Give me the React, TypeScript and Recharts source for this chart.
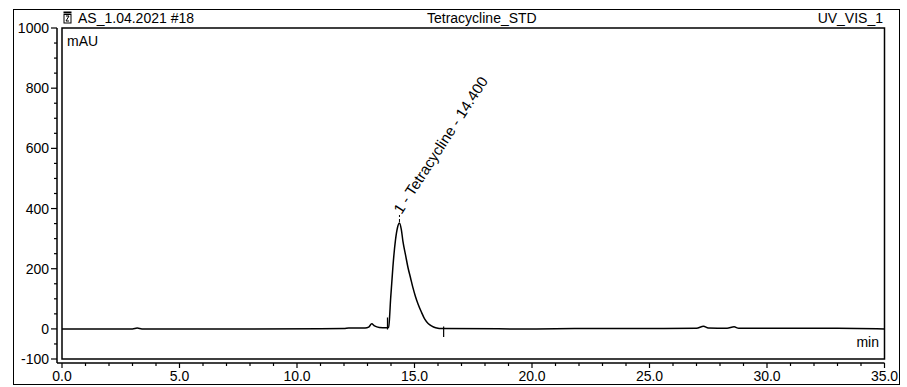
import {
  LineChart,
  Line,
  XAxis,
  YAxis,
  ReferenceArea,
  ReferenceLine,
  ReferenceDot,
} from "recharts";

// Chromatogram readings: retention time (min) and absorbance (mAU)
const TIMES = [
  0, 3.0, 3.2, 3.4, 8.0, 12.0, 12.2, 12.9, 13.05, 13.18, 13.3, 13.5, 13.8,
  13.9, 13.94, 13.98, 14.03, 14.08, 14.19, 14.28, 14.36, 14.44, 14.51, 14.62,
  14.72, 14.83, 14.93, 15.04, 15.15, 15.3, 15.43, 15.58, 15.72, 15.9, 16.2,
  20.0, 22.0, 25.0, 27.0, 27.3, 27.5, 28.3, 28.6, 28.8, 33.0, 35.0,
];
const MAU = [
  0, 0, 3, 0, 0, 1, 3, 3, 6, 17, 10, 5, 4,
  5, 40, 95, 150, 205, 295, 338, 352, 330, 290, 245,
  205, 170, 138, 108, 83, 55, 33, 18, 10, 4, 1,
  0, 1, 1, 2, 9, 3, 2, 7, 2, 2, 0,
];

const X_TICKS = Array.from({ length: 36 }, (_, i) => i);
const Y_TICKS = Array.from({ length: 23 }, (_, i) => -100 + i * 50);
const Y_LABELS = [-100, 0, 200, 400, 600, 800, 1000];

const PEAK_TIME = 14.36;
const PEAK_MAU = 352;
const PEAK_LABEL = "1 - Tetracycline - 14.400";
const START_MARK = 13.85;
const END_MARK = 16.24;

const data = TIMES.map((t, i) => ({ t, v: MAU[i] }));

const FONT = "'Liberation Sans', Arial, sans-serif";

const XTick = (props: any) => {
  const { x, y, payload } = props;
  const major = payload.value % 5 === 0;
  return (
    <g>
      <line x1={x} x2={x} y1={y} y2={y + (major ? 5 : 3)} stroke="#000" strokeWidth={1.2} />
      {major && (
        <text x={x} y={y + 18} textAnchor="middle" fontSize={14} fontFamily={FONT} fill="#000">
          {payload.value.toFixed(1)}
        </text>
      )}
    </g>
  );
};

const YTick = (props: any) => {
  const { x, y, payload } = props;
  const labelled = Y_LABELS.includes(payload.value);
  return (
    <g>
      <line x1={x} x2={x - (labelled ? 6 : 3)} y1={y} y2={y} stroke="#000" strokeWidth={1.2} />
      {labelled && (
        <text x={x - 8} y={y + 5} textAnchor="end" fontSize={14} fontFamily={FONT} fill="#000">
          {payload.value}
        </text>
      )}
    </g>
  );
};

const PeakLabel = (props: any) => {
  const { cx, cy } = props;
  const sx = cx + 2;
  const sy = cy - 8;
  return (
    <g>
      <line x1={cx} x2={cx} y1={cy - 1} y2={cy - 8} stroke="#000" strokeDasharray="3 2" />
      <text
        x={sx}
        y={sy}
        transform={`rotate(-57, ${sx}, ${sy})`}
        fontSize={15}
        fontFamily={FONT}
        fill="#000"
      >
        {PEAK_LABEL}
      </text>
    </g>
  );
};

export default function App() {
  return (
    <div
      style={{
        position: "absolute",
        left: 0,
        top: 0,
        width: 907,
        height: 387,
        background: "#fff",
        fontFamily: FONT,
        color: "#000",
      }}
    >
      {/* outer frame */}
      <div
        style={{
          position: "absolute",
          left: 13,
          top: 9,
          width: 885,
          height: 374,
          border: "1.5px solid #000",
        }}
      />
      {/* header */}
      <svg style={{ position: "absolute", left: 63, top: 11 }} width={10} height={13}>
        <rect x={0.5} y={0.5} width={8} height={2} fill="#000" />
        <rect x={1} y={3.5} width={7} height={8.5} fill="none" stroke="#000" />
        <path d="M3 5 L6 5 L3 10 L6 10" fill="none" stroke="#000" />
      </svg>
      <div style={{ position: "absolute", left: 78, top: 10, fontSize: 14 }}>AS_1.04.2021 #18</div>
      <div style={{ position: "absolute", left: 427, top: 10, fontSize: 14 }}>Tetracycline_STD</div>
      <div style={{ position: "absolute", right: 907 - 883, top: 10, fontSize: 14 }}>UV_VIS_1</div>
      <div style={{ position: "absolute", left: 67, top: 33, fontSize: 14 }}>mAU</div>
      <div style={{ position: "absolute", right: 907 - 879, top: 334, fontSize: 14 }}>min</div>

      <div style={{ position: "absolute", left: 0, top: 0 }}>
        <LineChart
          width={907}
          height={387}
          data={data}
          margin={{ top: 28, right: 22.5, bottom: 0, left: 0 }}
        >
          <XAxis
            dataKey="t"
            type="number"
            domain={[0, 35]}
            ticks={X_TICKS}
            interval={0}
            height={24}
            padding={{ left: 5, right: 0 }}
            tickSize={0}
            tickMargin={0}
            tickLine={false}
            axisLine={{ stroke: "#000", strokeWidth: 1.5 }}
            tick={<XTick />}
            allowDataOverflow
          />
          <YAxis
            type="number"
            domain={[-100, 1000]}
            ticks={Y_TICKS}
            interval={0}
            width={57}
            padding={{ top: 0, bottom: 4 }}
            tickSize={0}
            tickMargin={0}
            tickLine={false}
            axisLine={{ stroke: "#000", strokeWidth: 1.5 }}
            tick={<YTick />}
            allowDataOverflow
          />
          <ReferenceArea
            x1={0}
            x2={35}
            y1={-100}
            y2={1000}
            fill="none"
            stroke="#000"
            strokeWidth={1.5}
          />
          <ReferenceLine
            segment={[
              { x: START_MARK, y: -2 },
              { x: START_MARK, y: 38 },
            ]}
            stroke="#000"
            strokeWidth={1.2}
          />
          <ReferenceLine
            segment={[
              { x: END_MARK, y: 8 },
              { x: END_MARK, y: -27 },
            ]}
            stroke="#000"
            strokeWidth={1.2}
          />
          <Line
            type="monotone"
            dataKey="v"
            stroke="#000"
            strokeWidth={1.5}
            dot={false}
            isAnimationActive={false}
          />
          <ReferenceDot x={PEAK_TIME} y={PEAK_MAU} r={0} shape={<PeakLabel />} />
        </LineChart>
      </div>
    </div>
  );
}
